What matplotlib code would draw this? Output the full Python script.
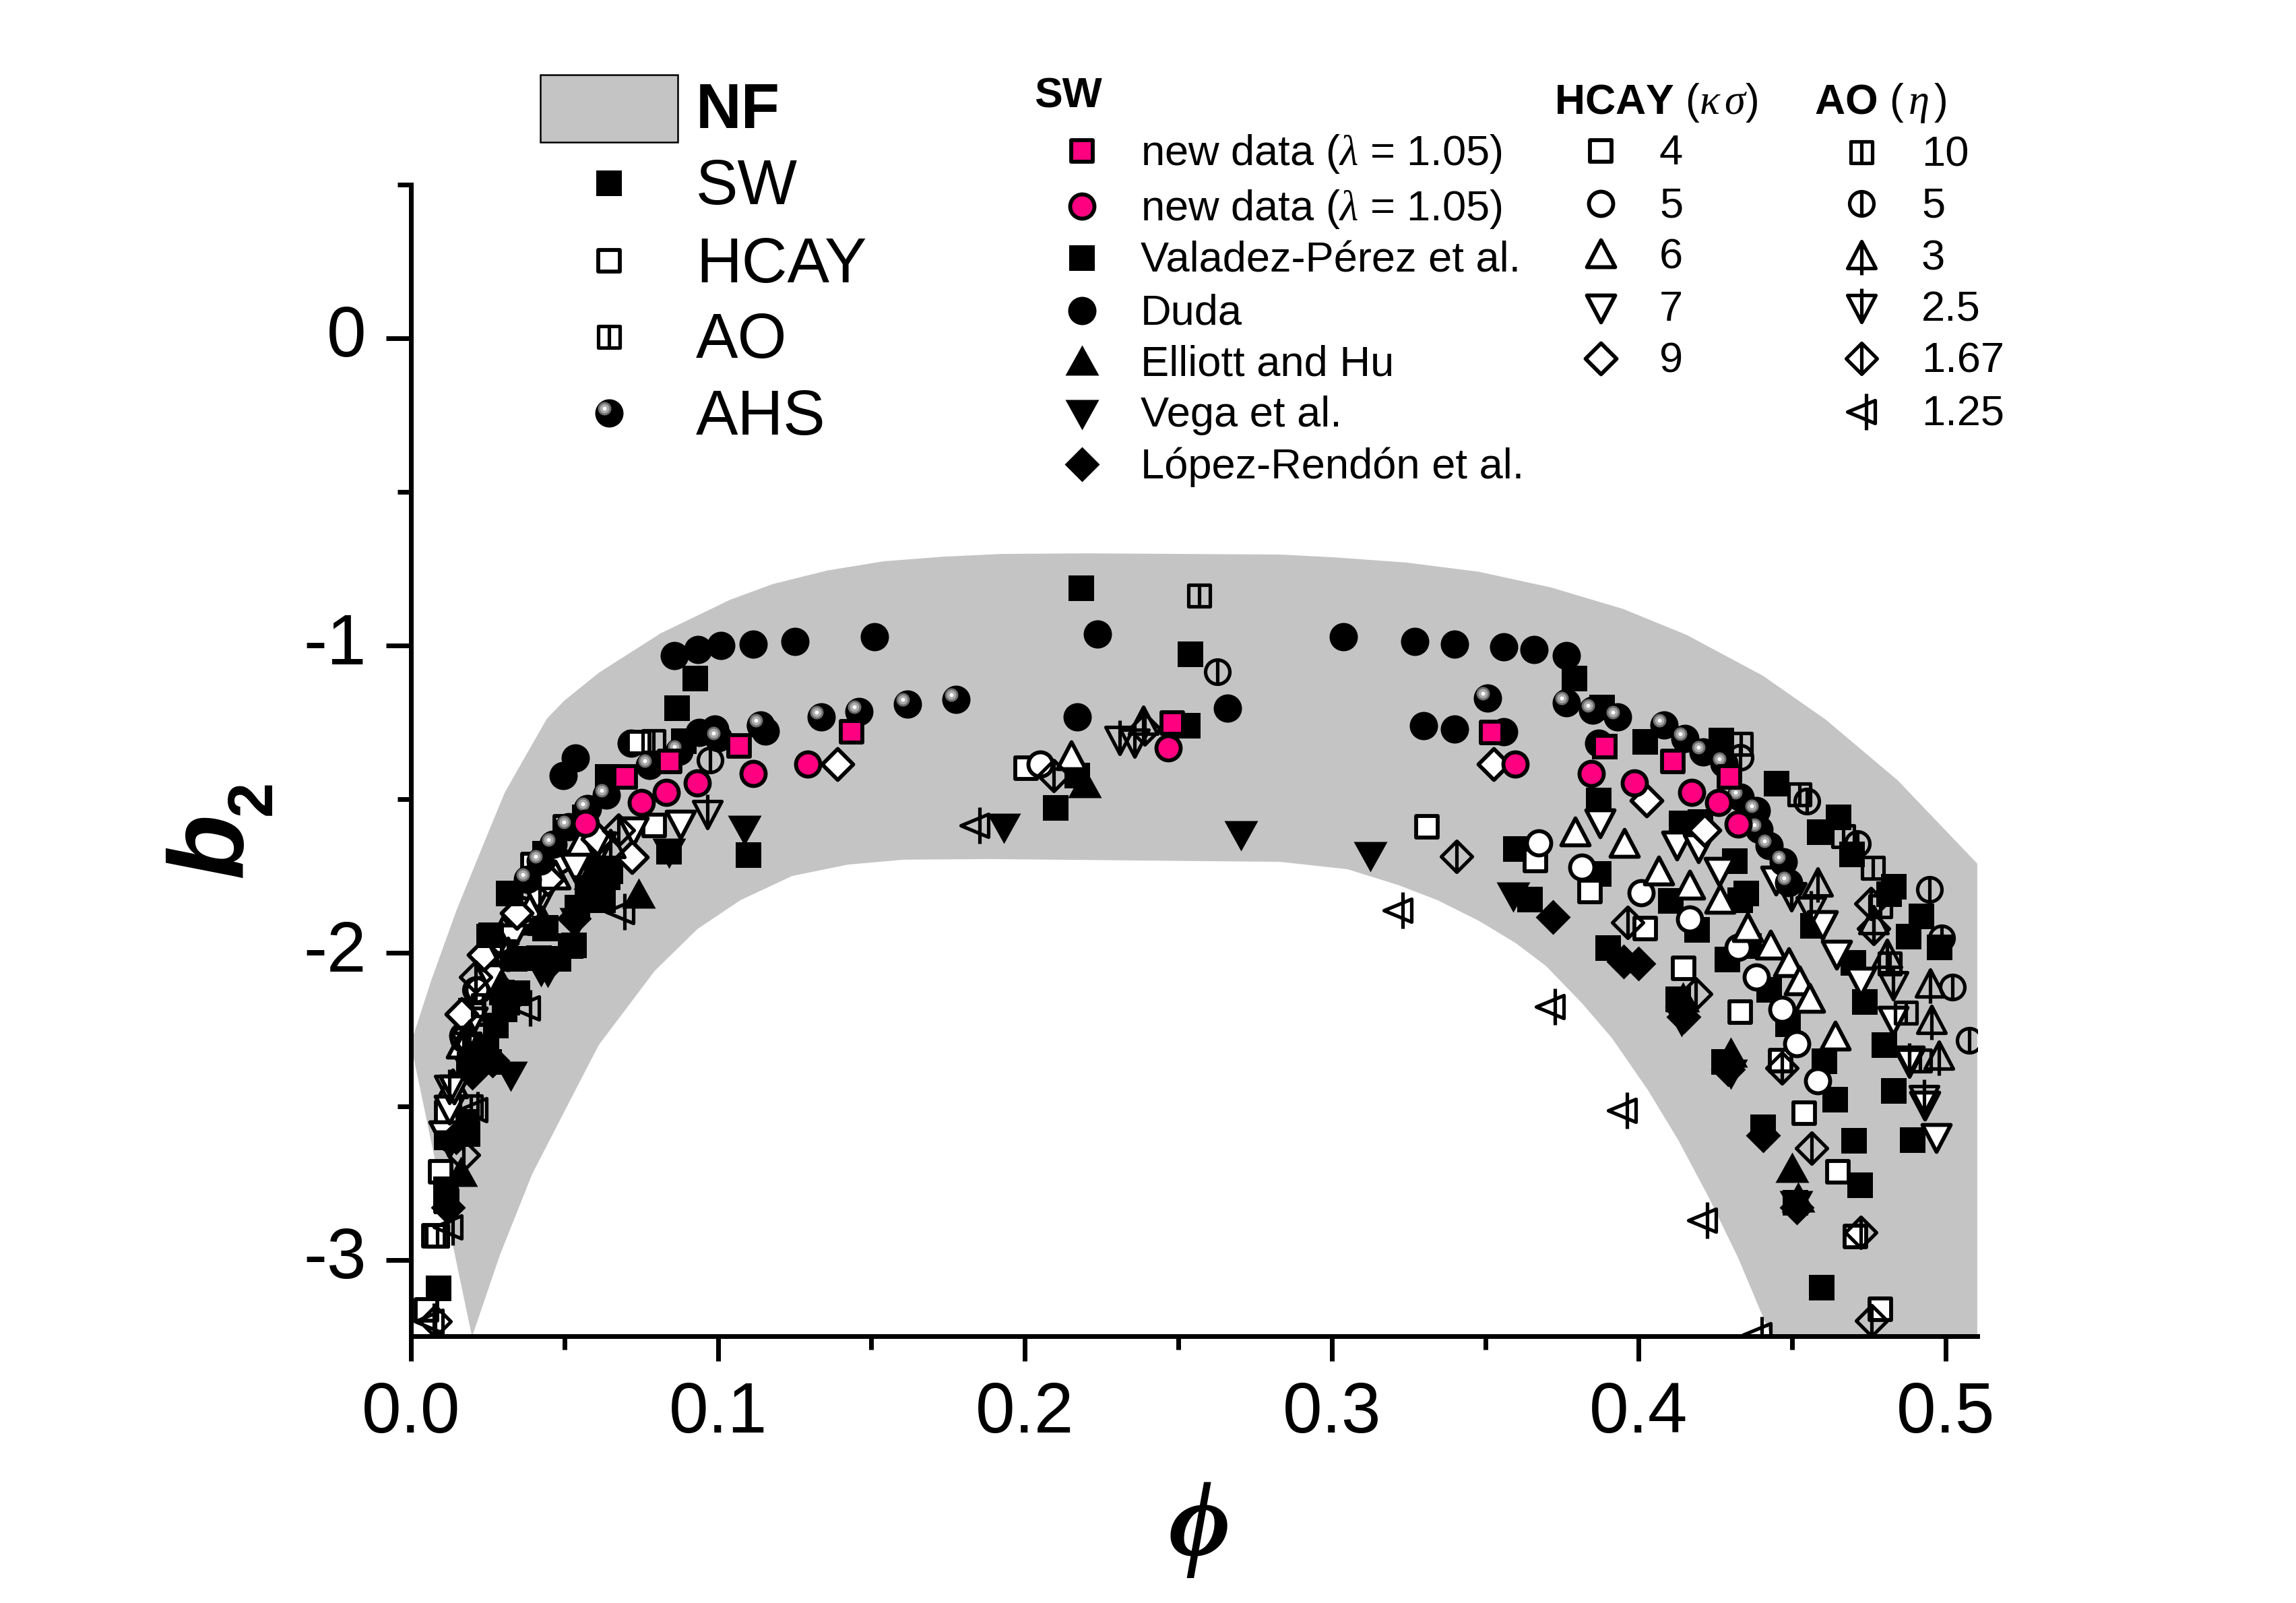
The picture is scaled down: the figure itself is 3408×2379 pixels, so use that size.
import numpy as np
import matplotlib
matplotlib.use("Agg")
import matplotlib.pyplot as plt
from matplotlib.markers import MarkerStyle
from matplotlib.path import Path
from matplotlib.transforms import Affine2D

plt.rcParams["font.family"] = ["Liberation Sans", "DejaVu Sans"]
plt.rcParams["mathtext.fontset"] = "custom"
plt.rcParams["mathtext.rm"] = "Liberation Sans"
plt.rcParams["mathtext.it"] = "Liberation Serif:italic"
plt.rcParams["mathtext.bf"] = "Liberation Sans:bold"

W, H = 3408, 2379
DPI = 300

# NF band outline
nf_upper_x = [0.0, 0.0007, 0.0066, 0.0149, 0.0248, 0.0305, 0.0373, 0.0443, 0.0499, 0.0613, 0.0814, 0.104, 0.1179, 0.1356,
              0.1539, 0.1734, 0.1923, 0.22, 0.2831, 0.3008, 0.3243, 0.3479, 0.3714, 0.3949, 0.4155, 0.4404, 0.4609,
              0.4844, 0.5103]
nf_upper_y = [-2.3, -2.272, -2.09, -1.86, -1.618, -1.48, -1.36, -1.238, -1.18, -1.088, -0.96, -0.851, -0.80, -0.756,
              -0.726, -0.711, -0.702, -0.70, -0.704, -0.713, -0.73, -0.76, -0.811, -0.881, -0.965, -1.098, -1.241,
              -1.439, -1.71]
nf_lower_x = [0.5103, 0.4432, 0.4324, 0.4227, 0.4129, 0.403, 0.3913, 0.3815, 0.3698, 0.36, 0.3481, 0.3345, 0.3218, 0.3051,
              0.2831, 0.1885, 0.1606, 0.1424, 0.1242, 0.1073, 0.0933, 0.0794, 0.0612, 0.0514, 0.0395, 0.029, 0.0199]
nf_lower_y = [-3.25, -3.25, -2.993, -2.794, -2.61, -2.447, -2.278, -2.164, -2.043, -1.969, -1.897, -1.829, -1.78, -1.728,
              -1.704, -1.695, -1.697, -1.713, -1.75, -1.829, -1.923, -2.059, -2.30, -2.489, -2.72, -2.983, -3.25]

# SW literature data
valadez_x = [0.2185, 0.254, 0.253, 0.0926, 0.0867, 0.089, 0.0642, 0.0566, 0.0436, 0.0318, 0.0255, 0.110, 0.210, 0.217,
             0.379, 0.388, 0.402, 0.427, 0.389, 0.445, 0.465, 0.459, 0.4696, 0.483, 0.4816, 0.492, 0.488, 0.498,
             0.360, 0.387, 0.3645, 0.4104, 0.419, 0.4314, 0.435, 0.433, 0.414, 0.420, 0.4567, 0.390, 0.4288, 0.436,
             0.470, 0.4425, 0.4129, 0.4737, 0.387, 0.4486, 0.4605, 0.480, 0.4278, 0.4832, 0.4639, 0.4406, 0.4702,
             0.4892, 0.4721, 0.4597, 0.451, 0.0532, 0.065, 0.0575, 0.048, 0.0339, 0.044, 0.084, 0.0583, 0.0091,
             0.0117, 0.0117, 0.0129, 0.018, 0.0188, 0.0213, 0.0255, 0.0314, 0.0297, 0.0196]
valadez_y = [-0.814, -1.029, -1.262, -1.107, -1.205, -1.311, -1.428, -1.56, -1.677, -1.808, -1.947, -1.683, -1.529, -1.424,
             -1.107, -1.202, -1.313, -1.309, -1.329, -1.449, -1.559, -1.607, -1.679, -1.784, -1.809, -1.881, -1.948, -1.983,
             -1.663, -1.744, -1.826, -1.832, -1.925, -1.702, -1.806, -1.829, -1.579, -1.575, -1.913, -1.984, -2.021, -1.979,
             -2.033, -2.121, -2.152, -2.159, -1.504, -2.233, -2.353, -2.30, -2.355, -2.449, -2.478, -2.569, -2.611,
             -2.609, -2.756, -3.091, -2.814, -1.976, -1.735, -1.823, -2.02, -2.02, -1.918, -1.67, -1.691, -3.092,
             -2.6, -2.809, -2.6, -2.55, -2.356, -2.314, -2.356, -2.163, -2.129, -2.188]
# the ones that sit on top of the open symbols in the dense low part
valadez_front_x = [0.064, 0.0626, 0.0575, 0.0542, 0.0521, 0.0437, 0.0416, 0.0346, 0.0304, 0.0276, 0.0245, 0.0192, 0.0185,
                   0.0115, 0.0115, 0.0262, 0.0325]
valadez_front_y = [-1.754, -1.828, -1.79, -1.854, -1.977, -1.922, -2.017, -2.132, -2.185, -2.237, -2.31, -2.363, -2.589,
                   -2.77, -2.804, -1.943, -1.807]
duda_x = [0.0535, 0.0496, 0.0717, 0.094, 0.099, 0.114, 0.1154, 0.0858, 0.0935, 0.101, 0.1116, 0.125, 0.151, 0.2237, 0.217,
          0.266, 0.3037, 0.327, 0.340, 0.356, 0.366, 0.3765, 0.33, 0.34, 0.356, 0.387]
duda_y = [-1.367, -1.424, -1.317, -1.282, -1.271, -1.26, -1.278, -1.033, -1.014, -1.0, -0.995, -0.986, -0.971, -0.962, -1.233,
          -1.205, -0.971, -0.986, -0.995, -1.005, -1.014, -1.033, -1.262, -1.271, -1.281, -1.317]
elliott_x = [0.0742, 0.2195, 0.450, 0.43, 0.0163, 0.023, 0.0583, 0.0415, 0.0295, 0.4145, 0.452]
elliott_y = [-1.812, -1.452, -2.703, -2.33, -2.717, -2.314, -1.75, -1.9, -2.1, -2.15, -2.8]
vega_x = [0.1932, 0.2705, 0.3125, 0.1087, 0.359, 0.084, 0.0324, 0.0537, 0.0423, 0.0445, 0.4139, 0.43, 0.4513, 0.019, 0.0125]
vega_y = [-1.59, -1.614, -1.681, -1.596, -1.814, -1.67, -2.398, -1.896, -2.057, -2.06, -2.22, -2.39, -2.817, -2.38, -2.62]
lopez_x = [0.372, 0.395, 0.4, 0.4147, 0.429, 0.4405, 0.4514, 0.0121, 0.020, 0.0314, 0.0532, 0.0455, 0.0146, 0.0265, 0.0625]
lopez_y = [-1.883, -2.029, -2.036, -2.208, -2.38, -2.594, -2.829, -2.83, -2.39, -2.138, -1.889, -2.03, -2.6, -2.35, -1.76]

# SW new data
pink_sq_x = [0.0698, 0.0843, 0.1068, 0.1436, 0.2481, 0.352, 0.389, 0.411, 0.4295]
pink_sq_y = [-1.427, -1.377, -1.327, -1.281, -1.252, -1.282, -1.329, -1.377, -1.427]
pink_ci_x = [0.0568, 0.0751, 0.0831, 0.0933, 0.1116, 0.1293, 0.2467, 0.3597, 0.3845, 0.3987, 0.4173, 0.426, 0.4323]
pink_ci_y = [-1.58, -1.512, -1.479, -1.448, -1.417, -1.386, -1.333, -1.386, -1.417, -1.448, -1.478, -1.512, -1.581]

# AHS
ahs_x = [0.1618, 0.1775, 0.146, 0.1336, 0.3507, 0.3765, 0.385, 0.393, 0.114, 0.1, 0.0776, 0.0873, 0.0637, 0.0574, 0.0514,
         0.0464, 0.0421, 0.038, 0.4083, 0.415, 0.421, 0.4278, 0.433, 0.4383, 0.4393, 0.4425, 0.4472, 0.4488]
ahs_y = [-1.19, -1.176, -1.214, -1.233, -1.171, -1.186, -1.21, -1.233, -1.259, -1.30, -1.39, -1.344, -1.487, -1.53, -1.59,
         -1.646, -1.702, -1.762, -1.259, -1.302, -1.347, -1.383, -1.494, -1.538, -1.598, -1.652, -1.705, -1.771]

# HCAY series, kappa sigma = 4, 5, 6, 7, 9
hcay4_x = [0.3663, 0.3842, 0.402, 0.3311, 0.2004, 0.4146, 0.433, 0.4538, 0.4649, 0.4462, 0.4706, 0.4786, 0.0096, 0.0075,
           0.005, 0.0117, 0.0793, 0.0503, 0.0398, 0.0742, 0.0205, 0.0285]
hcay4_y = [-1.70, -1.80, -1.921, -1.59, -1.4, -2.051, -2.194, -2.523, -2.712, -2.351, -2.923, -3.161, -2.713, -2.922,
           -3.162, -2.52, -1.585, -1.589, -1.713, -1.315, -2.2, -1.95]
hcay5_x = [0.205, 0.3674, 0.3814, 0.4007, 0.4167, 0.4325, 0.4383, 0.4467, 0.4515, 0.4582, 0.017, 0.022, 0.029, 0.036, 0.048]
hcay5_y = [-1.386, -1.643, -1.721, -1.804, -1.89, -1.982, -2.079, -2.185, -2.296, -2.416, -2.27, -2.12, -1.96, -1.86, -1.7]
hcay6_x = [0.2151, 0.3793, 0.3952, 0.4066, 0.4167, 0.4265, 0.4354, 0.443, 0.4488, 0.4524, 0.4556, 0.4639, 0.0135, 0.0165,
           0.03, 0.039, 0.047, 0.055]
hcay6_y = [-1.362, -1.61, -1.648, -1.736, -1.783, -1.829, -1.921, -1.979, -2.036, -2.094, -2.152, -2.275, -2.43, -2.3,
           -1.93, -1.85, -1.75, -1.65]
hcay7_x = [0.3873, 0.4125, 0.4194, 0.4262, 0.4446, 0.4598, 0.4645, 0.4724, 0.4828, 0.4882, 0.4933, 0.497, 0.0877, 0.0108,
           0.0125, 0.014, 0.02, 0.026, 0.033, 0.041, 0.0535, 0.062, 0.0725]
hcay7_y = [-1.575, -1.648, -1.656, -1.733, -1.76, -1.906, -2.002, -2.09, -2.217, -2.347, -2.494, -2.598, -1.578, -2.591,
           -2.507, -2.44, -2.22, -2.08, -1.95, -1.81, -1.72, -1.65, -1.6]
hcay9_x = [0.139, 0.3527, 0.4026, 0.0238, 0.0608, 0.0721, 0.0165, 0.0345, 0.0445, 0.4215]
hcay9_y = [-1.386, -1.386, -1.504, -2.006, -1.629, -1.688, -2.2, -1.87, -1.76, -1.6]

# AO series, eta = 10, 5, 3, 2.5, 1.67, 1.25
ao10_x = [0.4333, 0.4524, 0.4666, 0.4764, 0.4787, 0.4818, 0.487, 0.4916, 0.2567, 0.079, 0.0085, 0.0195, 0.0235]
ao10_y = [-1.321, -1.484, -1.621, -1.723, -1.848, -2.036, -2.196, -2.351, -0.838, -1.311, -2.92, -2.5, -2.17]
ao5_x = [0.2628, 0.0975, 0.433, 0.4548, 0.4713, 0.4947, 0.4987, 0.5021, 0.5076, 0.021, 0.0171]
ao5_y = [-1.086, -1.373, -1.363, -1.506, -1.644, -1.794, -1.952, -2.112, -2.286, -2.12, -2.28]
ao3_x = [0.4582, 0.4766, 0.4808, 0.4949, 0.4954, 0.4977, 0.2386, 0.065, 0.0428, 0.0315, 0.019]
ao3_y = [-1.775, -1.898, -2.006, -2.103, -2.221, -2.338, -1.248, -1.65, -1.9, -2.0, -2.27]
ao25_x = [0.0965, 0.4561, 0.4498, 0.4828, 0.4882, 0.4929, 0.231, 0.2357, 0.0125, 0.018, 0.0295, 0.042]
ao25_y = [-1.545, -1.86, -1.813, -2.103, -2.355, -2.473, -1.305, -1.314, -2.44, -2.3, -2.0, -1.83]
ao167_x = [0.3963, 0.4756, 0.4766, 0.4185, 0.4467, 0.4563, 0.4723, 0.4759, 0.3407, 0.2095, 0.239, 0.0079, 0.0171, 0.021,
           0.0675]
ao167_y = [-1.902, -1.84, -1.921, -2.133, -2.376, -2.635, -2.909, -3.198, -1.686, -1.424, -1.271, -3.2, -2.658, -2.08,
           -1.6]
ao125_x = [0.1837, 0.3216, 0.3712, 0.3946, 0.4208, 0.4385, 0.068, 0.0373, 0.0201, 0.0121, 0.006]
ao125_y = [-1.586, -1.862, -2.176, -2.514, -2.871, -3.243, -1.867, -2.18, -2.51, -2.893, -3.2]

x_ticks = [0.0, 0.1, 0.2, 0.3, 0.4, 0.5]
y_ticks = [0, -1, -2, -3]

nf_rows = ["SW", "HCAY", "AO", "AHS"]
sw_rows = [r"new data ($\lambda$ = 1.05)", r"new data ($\lambda$ = 1.05)", "Valadez-Pérez et al.", "Duda",
           "Elliott and Hu", "Vega et al.", "López-Rendón et al."]
hcay_rows = ["4", "5", "6", "7", "9"]
ao_rows = ["10", "5", "3", "2.5", "1.67", "1.25"]


def poly(*pts):
    return Path(list(pts) + [pts[0]], closed=True)


def both(*paths):
    return Path.make_compound_path(*paths)


def stem(a, b):
    return Path([(0, a), (0, b)])


# marker shapes, in picture pixels around the point
SQ = poly((-19, -19), (19, -19), (19, 19), (-19, 19))
SQ_O = poly((-16, -16), (16, -16), (16, 16), (-16, 16))
CI = Path.circle((0, 0), 21)
CI_O = Path.circle((0, 0), 18)
UP = poly((-25, -20), (25, -20), (0, 25))
DN = poly((-25, 20), (25, 20), (0, -25))
DI = poly((-26, 0), (0, -26), (26, 0), (0, 26))
UP_O = poly((-21, -18), (21, -18), (0, 22))
DN_O = poly((-21, 18), (21, 18), (0, -22))
DI_O = poly((-23, 0), (0, -23), (23, 0), (0, 23))
LF_O = poly((20, -17), (20, 17), (-21, 0))
AO_SQ = both(SQ_O, stem(-16, 16))
AO_CI = both(CI_O, stem(-18, 18))
AO_UP = both(UP_O, stem(22, -28))
AO_DN = both(DN_O, stem(-22, 28))
AO_DI = both(DI_O, stem(-23, 23))
AO_LF = both(LF_O, Path([(7, -27), (7, 27)]))
AHS_HALO = Path.circle((-7, 7), 10)
AHS_MID = Path.circle((-7, 7), 7)
AHS_TOP = Path.circle((-7, 7), 3)
PINK = "#ff0080"
MEW = 1.4


def size_of(path):
    return 2 * np.abs(path.vertices).max() * 72 / DPI


def mark(ax, x, y, path, fc="black", ec="none", mew=0.0, join="miter", **kw):
    ax.plot(x, y, ls="none", marker=MarkerStyle(path, joinstyle=join), ms=size_of(path), mfc=fc,
            mec=ec, mew=mew, **kw)


def mark_filled(ax, x, y, path, **kw):
    mark(ax, x, y, path, **kw)


def mark_open(ax, x, y, path, **kw):
    mark(ax, x, y, path, fc="white", ec="black", mew=MEW, **kw)


def mark_ao(ax, x, y, path, **kw):
    mark(ax, x, y, path, fc="none", ec="black", mew=1.25, join="round", **kw)


def mark_pink(ax, x, y, path, **kw):
    mark(ax, x, y, path, fc=PINK, ec="black", mew=MEW, **kw)


def mark_ahs(ax, x, y, **kw):
    mark(ax, x, y, CI, **kw)
    ax.plot(x, y, ls="none", marker=AHS_HALO, ms=size_of(AHS_HALO), mfc="#6e6e6e", mew=0, **kw)
    ax.plot(x, y, ls="none", marker=AHS_MID, ms=size_of(AHS_MID), mfc="#ababab", mew=0, **kw)
    ax.plot(x, y, ls="none", marker=AHS_TOP, ms=size_of(AHS_TOP), mfc="white", mew=0, **kw)


fig = plt.figure(figsize=(W / DPI, H / DPI), dpi=DPI)
left, right, top, bottom = 610, 2935, 274, 1983
ax = fig.add_axes([left / W, 1 - bottom / H, (right - left) / W, (bottom - top) / H])
ax.set_xlim(0, (right - left) / 4556)
ax.set_ylim(-(bottom - 502) / 456, 0.5)

ax.fill(nf_upper_x + nf_lower_x, nf_upper_y + nf_lower_y, color="#c4c4c4", lw=0, zorder=1)

mark_filled(ax, valadez_x, valadez_y, SQ, zorder=2)
mark_filled(ax, duda_x, duda_y, CI, zorder=2)
mark_filled(ax, elliott_x, elliott_y, UP, zorder=2)
mark_open(ax, hcay4_x, hcay4_y, SQ_O, zorder=3)
mark_open(ax, hcay5_x, hcay5_y, CI_O, zorder=3)
mark_open(ax, hcay6_x, hcay6_y, UP_O, zorder=3)
mark_open(ax, hcay7_x, hcay7_y, DN_O, zorder=3)
mark_open(ax, hcay9_x, hcay9_y, DI_O, zorder=3)
mark_ao(ax, ao10_x, ao10_y, AO_SQ, zorder=3)
mark_ao(ax, ao5_x, ao5_y, AO_CI, zorder=3)
mark_ao(ax, ao3_x, ao3_y, AO_UP, zorder=3)
mark_ao(ax, ao25_x, ao25_y, AO_DN, zorder=3)
mark_ao(ax, ao167_x, ao167_y, AO_DI, zorder=3)
mark_ao(ax, ao125_x, ao125_y, AO_LF, zorder=3)
mark_filled(ax, valadez_front_x, valadez_front_y, SQ, zorder=3.5)
mark_filled(ax, vega_x, vega_y, DN, zorder=3.5)
mark_filled(ax, lopez_x, lopez_y, DI, zorder=3.5)
mark_ahs(ax, ahs_x, ahs_y, zorder=4)
mark_pink(ax, pink_sq_x, pink_sq_y, SQ_O, zorder=5)
mark_pink(ax, pink_ci_x, pink_ci_y, CI_O, zorder=5)

for side in ["top", "right"]:
    ax.spines[side].set_visible(False)
for side in ["left", "bottom"]:
    ax.spines[side].set_linewidth(1.68)
    ax.spines[side].set_zorder(10)

ax.set_xticks(x_ticks)
ax.set_xticklabels(["%.1f" % v for v in x_ticks])
ax.set_yticks(y_ticks)
ax.set_yticklabels([str(v) for v in y_ticks], va="center")
ax.set_xticks(np.arange(0.05, 0.5, 0.1), minor=True)
ax.set_yticks([0.5, -0.5, -1.5, -2.5], minor=True)
ax.tick_params(which="major", length=8.9, width=1.68, labelsize=25.3, pad=7)
ax.tick_params(which="minor", length=4.8, width=1.68)

# legend is placed in picture pixels
px = Affine2D().scale(1 / W, -1 / H).translate(0, 1) + fig.transFigure


def label(x, y, s, size, **kw):
    fig.text(x, y, s, transform=px, fontsize=size, va="center", **kw)


def key(mark_fn, x, y, *args):
    mark_fn(ax, [x], [y], *args, transform=px, clip_on=False, zorder=6)


fig.patches.append(plt.Rectangle((802, 111), 204, 100, transform=px, fc="#c4c4c4", ec="black", lw=0.6))
label(1033, 166, "NF", 22.5, fontweight="bold")
nf_y = [272, 387, 500, 613]
for row, y in zip(nf_rows, nf_y):
    label(1033, y + 7, row, 22.5)
key(mark_filled, 904, nf_y[0], SQ)
key(mark_open, 904, nf_y[1], SQ_O)
key(mark_ao, 904, nf_y[2], AO_SQ)
mark_ahs(ax, [904], [nf_y[3]], transform=px, clip_on=False, zorder=6)

label(1535, 143, "SW", 15, fontweight="bold")
sw_y = [224, 306, 383, 461, 537, 613, 689]
for row, y in zip(sw_rows, sw_y):
    label(1693, y + 4, row, 15.2)
key(mark_pink, 1606, sw_y[0], SQ_O)
key(mark_pink, 1606, sw_y[1], CI_O)
key(mark_filled, 1606, sw_y[2], SQ)
key(mark_filled, 1606, sw_y[3], CI)
key(mark_filled, 1606, sw_y[4], UP)
key(mark_filled, 1606, sw_y[5], DN)
key(mark_filled, 1606, sw_y[6], DI)

label(2307, 153, r"$\mathbf{HCAY}$ ($\kappa\,\sigma$)", 15)
hcay_y = [224, 302, 378, 456, 532]
for row, y in zip(hcay_rows, hcay_y):
    label(2463, y + 4, row, 15.2)
for path, y in zip([SQ_O, CI_O, UP_O, DN_O, DI_O], hcay_y):
    key(mark_open, 2376, y, path)

label(2693, 153, r"$\mathbf{AO}$ ($\,\eta\,$)", 15)
ao_y = [226, 302, 380, 456, 532, 611]
for row, y in zip(ao_rows, ao_y):
    label(2852, y + 4, row, 15.2)
for path, y in zip([AO_SQ, AO_CI, AO_UP, AO_DN, AO_DI, AO_LF], ao_y):
    key(mark_ao, 2763, y, path)

fig.text(358, 1303, "b", transform=px, fontsize=38, fontweight="bold", style="italic", rotation=90,
         ha="left", va="baseline", rotation_mode="anchor")
fig.text(402, 1210, "2", transform=px, fontsize=22.5, fontweight="bold", rotation=90,
         ha="left", va="baseline", rotation_mode="anchor")
fig.text(1780, 2270, "\u03d5", transform=px, family="Liberation Serif", fontsize=38, fontweight="bold",
         style="italic", ha="center", va="center")

ax.set_xlim(0, (right - left) / 4556)
ax.set_ylim(-(bottom - 502) / 456, 0.5)
fig.savefig("out.png", dpi=DPI)
